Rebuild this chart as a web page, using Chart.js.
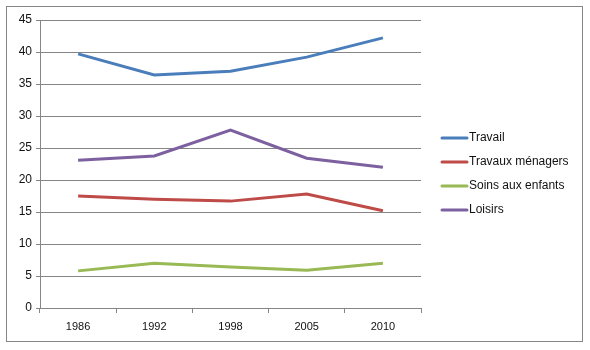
<!DOCTYPE html>
<html>
<head>
<meta charset="utf-8">
<script src="https://cdn.jsdelivr.net/npm/chart.js@4"></script>
<style>
  html, body { margin: 0; padding: 0; background: #fff; }
  #wrap { position: relative; width: 590px; height: 350px; }
</style>
</head>
<body>
<div id="wrap"><canvas id="timeChart" width="590" height="350"></canvas></div>
<script>
const years = ['1986', '1992', '1998', '2005', '2010'];
const travail = [39.7, 36.4, 37.0, 39.2, 42.2];
const travauxMenagers = [17.5, 17.0, 16.7, 17.8, 15.2];
const soinsEnfants = [5.8, 7.0, 6.4, 5.9, 7.0];
const loisirs = [23.1, 23.75, 27.8, 23.4, 22.0];

const seriesNames = ['Travail', 'Travaux ménagers', 'Soins aux enfants', 'Loisirs'];
const seriesColors = ['#4a7ebb', '#be4b48', '#98b954', '#7d60a0'];
const seriesValues = [travail, travauxMenagers, soinsEnfants, loisirs];

const fontFamily = '"Liberation Sans", Arial, sans-serif';

// outer frame + legend on the right
const frameAndLegend = {
    id: 'frameAndLegend',
    afterDraw(chart) {
        const ctx = chart.ctx;
        ctx.save();
        ctx.strokeStyle = '#868686';
        ctx.lineWidth = 1;
        ctx.strokeRect(6.5, 6.5, 576, 335);

        ctx.font = '12px ' + fontFamily;
        ctx.textBaseline = 'middle';
        ctx.fillStyle = '#111';
        chart.data.datasets.forEach((ds, i) => {
            const y = 138 + i * 24;
            ctx.strokeStyle = ds.borderColor;
            ctx.lineWidth = 3;
            ctx.lineCap = 'round';
            ctx.beginPath();
            ctx.moveTo(442, y);
            ctx.lineTo(467, y);
            ctx.stroke();
            ctx.fillText(ds.label, 469, y);
        });
        ctx.restore();
    }
};

const ctx = document.getElementById('timeChart').getContext('2d');
const timeChart = new Chart(ctx, {
    type: 'line',
    data: {
        labels: years,
        datasets: seriesNames.map((name, i) => ({
            label: name,
            data: seriesValues[i],
            borderColor: seriesColors[i],
            backgroundColor: seriesColors[i],
            borderWidth: 3,
            pointRadius: 0,
            tension: 0,
            fill: false
        }))
    },
    options: {
        responsive: false,
        animation: false,
        layout: { padding: { left: 6, top: 20, right: 169, bottom: 8 } },
        plugins: {
            legend: { display: false },
            tooltip: { enabled: false }
        },
        scales: {
            x: {
                offset: true,
                grid: {
                    offset: true,
                    drawOnChartArea: false,
                    drawTicks: true,
                    tickLength: 5,
                    color: '#868686'
                },
                border: { color: '#868686' },
                ticks: {
                    color: '#111',
                    font: { family: fontFamily, size: 11 },
                    padding: 7,
                    maxRotation: 0
                },
                afterFit(scale) { scale.height = 34; }
            },
            y: {
                min: 0,
                max: 45,
                ticks: {
                    stepSize: 5,
                    color: '#111',
                    font: { family: fontFamily, size: 12 },
                    padding: 4
                },
                grid: {
                    color: '#868686',
                    tickLength: 4
                },
                border: { color: '#868686' },
                afterFit(scale) { scale.width = 34; }
            }
        }
    },
    plugins: [frameAndLegend]
});
</script>
</body>
</html>
